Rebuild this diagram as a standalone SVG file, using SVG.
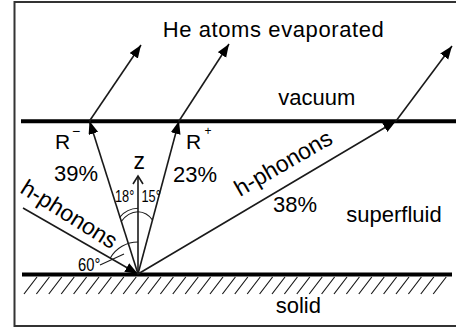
<svg xmlns="http://www.w3.org/2000/svg" width="456" height="330" viewBox="0 0 456 330">
<defs>
<style>
.t{font-family:"Liberation Sans",Arial,sans-serif;fill:#000}
.l{stroke:#1a1a1a;stroke-width:1.6;fill:none}
.thick{stroke:#000;stroke-width:4}
.arc{stroke:#1a1a1a;stroke-width:1.1;fill:none}
</style>
<marker id="ah" markerUnits="userSpaceOnUse" markerWidth="14" markerHeight="12" refX="13" refY="5" orient="auto">
<path d="M0,0 L13,5 L0,10 Z" fill="#000"/>
</marker>
</defs>
<rect x="14.5" y="2" width="460" height="324" fill="#fff" stroke="#333" stroke-width="2"/>
<g id="surfaces">
<line class="thick" x1="21" y1="121.3" x2="456" y2="121.3"/>
<line class="thick" x1="22" y1="274.5" x2="452" y2="274.5"/>
<path id="hatch" stroke="#1a1a1a" stroke-width="1.2" fill="none" d="M24,294l13,-17M36.4,294l13,-17M48.8,294l13,-17M61.2,294l13,-17M73.6,294l13,-17M86,294l13,-17M98.4,294l13,-17M110.8,294l13,-17M123.2,294l13,-17M135.6,294l13,-17M148,294l13,-17M160.4,294l13,-17M172.8,294l13,-17M185.2,294l13,-17M197.6,294l13,-17M210,294l13,-17M222.4,294l13,-17M234.8,294l13,-17M247.2,294l13,-17M259.6,294l13,-17M272,294l13,-17M284.4,294l13,-17M296.8,294l13,-17M309.2,294l13,-17M321.6,294l13,-17M334,294l13,-17M346.4,294l13,-17M358.8,294l13,-17M371.2,294l13,-17M383.6,294l13,-17M396,294l13,-17M408.4,294l13,-17M420.8,294l13,-17M433.2,294l13,-17"/>
</g>
<g id="connectors">
<line class="l" x1="23" y1="208" x2="138" y2="274" marker-end="url(#ah)"/>
<line class="l" x1="138" y1="274" x2="89.5" y2="121" marker-end="url(#ah)"/>
<line class="l" x1="138" y1="274" x2="179" y2="121" marker-end="url(#ah)"/>
<line class="l" x1="138" y1="274" x2="396" y2="121" marker-end="url(#ah)"/>
<line class="l" x1="89.5" y1="121" x2="141" y2="45" marker-end="url(#ah)"/>
<line class="l" x1="179" y1="121" x2="229" y2="44" marker-end="url(#ah)"/>
<line class="l" x1="396" y1="121" x2="452" y2="46" marker-end="url(#ah)"/>
<line class="l" x1="138" y1="274" x2="138" y2="176"/>
<path class="l" d="M133,184 L138,176 L143,184"/>
<path class="arc" d="M110.3,258 A32,32 0 0 1 138,242"/>
<line class="arc" x1="100" y1="265" x2="124" y2="254"/>
<path class="arc" d="M119.6,217.3 Q127,208.5 138,208.3"/>
<path class="arc" d="M121,221.7 Q128,212 138,211.7"/>
<path class="arc" d="M138,211.7 Q147,212 152.5,220"/>
</g>
<g id="labels">
<text class="t" x="162.7" y="37.3" font-size="22" letter-spacing="0.6">He atoms evaporated</text>
<text class="t" x="278.3" y="105" font-size="22">vacuum</text>
<text class="t" x="55" y="149.3" font-size="21">R</text>
<text class="t" x="72" y="136" font-size="14">−</text>
<text class="t" x="54" y="181" font-size="22">39%</text>
<text class="t" x="186" y="149" font-size="21">R</text>
<text class="t" x="204.5" y="135" font-size="12">+</text>
<text class="t" x="173" y="181.5" font-size="22">23%</text>
<text class="t" x="133.5" y="169.3" font-size="23">z</text>
<text class="t" transform="translate(115,201.7) scale(0.8,1)" font-size="16">18°</text>
<text class="t" transform="translate(141.5,201.7) scale(0.8,1)" font-size="16">15°</text>
<text class="t" transform="translate(78,271) scale(0.82,1)" font-size="18">60°</text>
<text class="t" transform="translate(19,192) rotate(32)" font-size="23">h-phonons</text>
<text class="t" transform="translate(240,197) rotate(-30)" font-size="23">h-phonons</text>
<text class="t" x="273" y="212.3" font-size="22">38%</text>
<text class="t" x="346.3" y="221.7" font-size="22">superfluid</text>
<text class="t" x="275.7" y="312.7" font-size="22">solid</text>
</g>
</svg>
